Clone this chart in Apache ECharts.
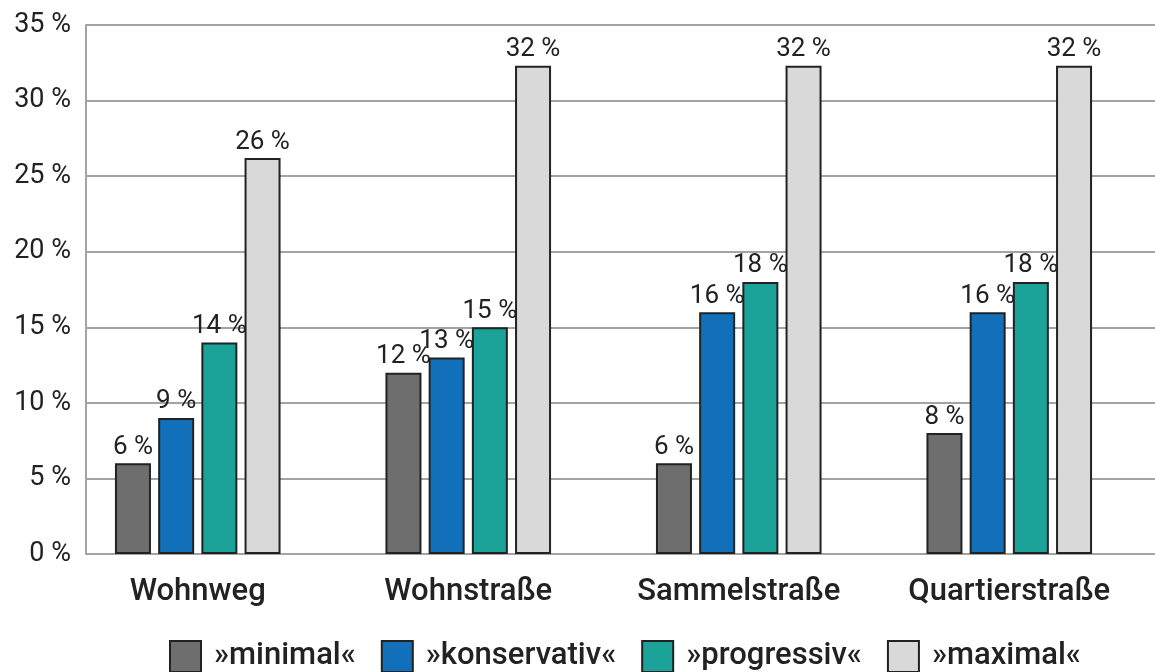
<!DOCTYPE html>
<html>
<head>
<meta charset="utf-8">
<script src="https://cdn.jsdelivr.net/npm/echarts@6/dist/echarts.min.js"></script>
<style>
html,body{margin:0;padding:0;background:#fff;}
#c{width:1155px;height:672px;}
</style>
</head>
<body>
<div id="c"></div>
<script>
var categories = ['Wohnweg', 'Wohnstraße', 'Sammelstraße', 'Quartierstraße'];
var seriesNames = ['»minimal«', '»konservativ«', '»progressiv«', '»maximal«'];
var minimalVals = [6, 12, 6, 8];
var konservativVals = [9, 13, 16, 16];
var progressivVals = [14, 15, 18, 18];
var maximalVals = [26.2, 32.3, 32.3, 32.3];
var yTicks = [0, 5, 10, 15, 20, 25, 30, 35];
var colors = ['#6e6e6e', '#1170b9', '#1ba399', '#d9d9d9'];

var FONT = 'Roboto';
var allVals = [minimalVals, konservativVals, progressivVals, maximalVals];

var series = allVals.map(function (vals, i) {
  return {
    name: seriesNames[i],
    type: 'bar',
    xAxisIndex: 1,
    yAxisIndex: 1,
    data: vals,
    barWidth: 36,
    barGap: '20%',
    itemStyle: { color: colors[i], borderColor: '#222222', borderWidth: 2 },
    label: {
      show: true,
      position: 'top',
      distance: 3,
      color: '#222222',
      fontFamily: FONT,
      fontSize: 26,
      formatter: function (p) { return Math.round(p.value) + ' %'; }
    }
  };
});

var chart = echarts.init(document.getElementById('c'));
chart.setOption({
  animation: false,
  backgroundColor: '#ffffff',
  legend: {
    data: seriesNames,
    left: 164,
    top: 635,
    itemWidth: 31,
    itemHeight: 31,
    itemGap: 25,
    icon: 'rect',
    itemStyle: { borderColor: '#222222', borderWidth: 2 },
    textStyle: { fontFamily: FONT, fontSize: 31, fontWeight: 500, color: '#222222', padding: [0, 0, 0, 8] }
  },
  grid: [
    { left: 86, right: 0, top: 25, bottom: 118, containLabel: false },
    { left: 62.5, right: 10.5, top: 25, bottom: 118, containLabel: false }
  ],
  xAxis: [
    { gridIndex: 0, type: 'category', data: categories, show: false },
    {
      gridIndex: 1, type: 'category', data: categories,
      axisLine: { show: false }, axisTick: { show: false },
      axisLabel: { margin: 23, fontFamily: FONT, fontSize: 31, fontWeight: 500, color: '#222222' }
    }
  ],
  yAxis: [
    {
      gridIndex: 0, type: 'value', min: yTicks[0], max: yTicks[yTicks.length - 1], interval: 5,
      axisLine: { show: true, lineStyle: { color: '#a3a3a3', width: 2 } },
      axisTick: { show: false },
      splitLine: { show: true, lineStyle: { color: '#a3a3a3', width: 2 } },
      axisLabel: { margin: 15, fontFamily: FONT, fontSize: 27, color: '#222222', formatter: '{value} %' }
    },
    {
      gridIndex: 1, type: 'value', min: yTicks[0], max: yTicks[yTicks.length - 1], interval: 5,
      show: false, splitLine: { show: false }
    }
  ],
  series: series
});
</script>
</body>
</html>
